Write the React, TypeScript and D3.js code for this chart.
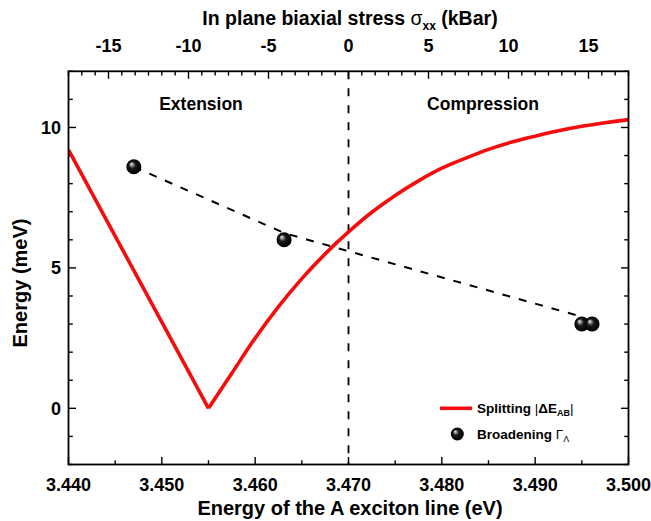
import * as d3 from 'd3';

const W = 651;
const H = 521;
const frame = { left: 68.5, right: 628.5, top: 71.3, bottom: 464.5 };
const font = '"Liberation Sans", Arial, sans-serif';
const red = '#f50d0d';

// axis ticks
const energyTicks = [3.44, 3.45, 3.46, 3.47, 3.48, 3.49, 3.5];
const stressTicks = [-15, -10, -5, 0, 5, 10, 15];
const meVTicks = [0, 5, 10];

// splitting |dE_AB| vs A exciton energy
const splitE = [3.44, 3.445, 3.45, 3.455, 3.4575, 3.46, 3.4625, 3.465, 3.4675, 3.47, 3.4725, 3.475,
  3.4775, 3.48, 3.4825, 3.485, 3.4875, 3.49, 3.4925, 3.495, 3.4975, 3.5];
const splitV = [9.2, 6.13, 3.07, 0, 1.25, 2.5, 3.62, 4.62, 5.5, 6.28, 6.98, 7.58,
  8.1, 8.55, 8.9, 9.22, 9.48, 9.69, 9.88, 10.04, 10.17, 10.28];

// broadening Gamma_A points
const broadE = [3.447, 3.4631, 3.495, 3.4961];
const broadV = [8.6, 6.0, 3.0, 3.0];

// dashed guide to the eye
const guideE = [3.447, 3.4632, 3.4948];
const guideV = [8.6, 6.23, 3.28];

const x = d3.scaleLinear().domain([3.44, 3.5]).range([frame.left, frame.right]);
const y = d3.scaleLinear().domain([-2, 12]).range([frame.bottom, frame.top]);
const stress = d3.scaleLinear().domain([-17.5, 17.5]).range([frame.left, frame.right]);

const Ball = ({ cx, cy, r }) => (
  <circle cx={cx} cy={cy} r={r} fill="url(#ball)" />
);

export default function App() {
  const pts = splitE.map((e, i) => [e, splitV[i]] as [number, number]);
  const vertex = splitV.indexOf(0);
  const leftLine = d3.line().x((d) => x(d[0])).y((d) => y(d[1]))(pts.slice(0, vertex + 1));
  const rightLine = d3
    .line()
    .curve(d3.curveMonotoneX)
    .x((d) => x(d[0]))
    .y((d) => y(d[1]))(pts.slice(vertex));
  const guide = d3
    .line()
    .x((d) => x(d[0]))
    .y((d) => y(d[1]))(guideE.map((e, i) => [e, guideV[i]]));

  const xMinor = x.ticks(12);
  const yMinor = y.ticks(14);
  const sMinor = d3.range(0, 43).map((i) => -17.5 + (i * 5) / 6).filter((v) => v <= 17.51);

  const major = 7.5;
  const minor = 4.3;

  return (
    <svg
      width={W}
      height={H}
      style={{ position: 'absolute', left: 0, top: 0, background: '#fff' }}
      fontFamily={font}
      fontWeight="bold"
    >
      <defs>
        <radialGradient id="ball" cx="50%" cy="50%" r="50%" fx="32%" fy="30%">
          <stop offset="0%" stopColor="#ffffff" />
          <stop offset="18%" stopColor="#9a9a9a" />
          <stop offset="45%" stopColor="#1a1a1a" />
          <stop offset="100%" stopColor="#000" />
        </radialGradient>
        <clipPath id="plot">
          <rect x={frame.left} y={frame.top} width={frame.right - frame.left} height={frame.bottom - frame.top} />
        </clipPath>
      </defs>

      {/* ticks */}
      <g stroke="#000" strokeWidth={1.4}>
        {xMinor.map((t) => {
          const m = energyTicks.some((v) => Math.abs(v - t) < 1e-6);
          const l = m ? major : minor;
          return <line key={'b' + t} x1={x(t)} x2={x(t)} y1={frame.bottom} y2={frame.bottom - l} />;
        })}
        {sMinor.map((t) => {
          const m = stressTicks.some((v) => Math.abs(v - t) < 1e-6);
          const l = m ? major : minor;
          return <line key={'t' + t} x1={stress(t)} x2={stress(t)} y1={frame.top} y2={frame.top + l} />;
        })}
        {yMinor.map((t) => {
          const l = meVTicks.includes(t) ? major : minor;
          return (
            <g key={'y' + t}>
              <line x1={frame.left} x2={frame.left + l} y1={y(t)} y2={y(t)} />
              <line x1={frame.right} x2={frame.right - l} y1={y(t)} y2={y(t)} />
            </g>
          );
        })}
      </g>

      {/* vertical dashed line at 3.470 */}
      <line
        x1={x(3.47)}
        x2={x(3.47)}
        y1={frame.top}
        y2={frame.bottom}
        stroke="#000"
        strokeWidth={1.8}
        strokeDasharray="8 9"
      />

      <g clipPath="url(#plot)">
        <path d={guide} fill="none" stroke="#000" strokeWidth={2} strokeDasharray="8 9" />
        <path d={leftLine} fill="none" stroke={red} strokeWidth={3.6} strokeLinejoin="round" />
        <path d={rightLine} fill="none" stroke={red} strokeWidth={3.6} strokeLinejoin="round" />
        {broadE.map((e, i) => (
          <Ball key={i} cx={x(e)} cy={y(broadV[i])} r={7.5} />
        ))}
      </g>

      <rect
        x={frame.left}
        y={frame.top}
        width={frame.right - frame.left}
        height={frame.bottom - frame.top}
        fill="none"
        stroke="#000"
        strokeWidth={1.8}
      />

      {/* tick labels */}
      <g fontSize={18} fill="#000">
        {energyTicks.map((t) => (
          <text key={t} x={x(t)} y={491} textAnchor="middle">
            {d3.format('.3f')(t)}
          </text>
        ))}
        {stressTicks.map((t) => (
          <text key={t} x={stress(t)} y={52} textAnchor="middle">
            {t}
          </text>
        ))}
        {meVTicks.map((t) => (
          <text key={t} x={61} y={y(t) + 6.5} textAnchor="end">
            {t}
          </text>
        ))}
      </g>

      {/* axis titles */}
      <text x={350} y={515} textAnchor="middle" fontSize={20}>
        Energy of the A exciton line (eV)
      </text>
      <text transform="translate(27,283) rotate(-90)" textAnchor="middle" fontSize={20}>
        Energy (meV)
      </text>
      <text x={350} y={25} textAnchor="middle" fontSize={19.5}>
        In plane biaxial stress <tspan fontWeight="normal">σ</tspan>
        <tspan fontSize={12} dy={5}>xx</tspan>
        <tspan dy={-5}> (kBar)</tspan>
      </text>

      {/* region labels */}
      <text x={201} y={110} textAnchor="middle" fontSize={17.5}>
        Extension
      </text>
      <text x={483} y={110} textAnchor="middle" fontSize={17.5}>
        Compression
      </text>

      {/* legend */}
      <line x1={440} x2={472} y1={408.3} y2={408.3} stroke={red} strokeWidth={3.6} />
      <text x={477} y={413.3} fontSize={13.5}>
        Splitting <tspan fontWeight="normal">|</tspan>ΔE
        <tspan fontSize={9} dy={3}>AB</tspan>
        <tspan fontWeight="normal" dy={-3}>|</tspan>
      </text>
      <Ball cx={457.3} cy={434} r={6.5} />
      <text x={477} y={439} fontSize={13.5}>
        Broadening <tspan fontWeight="normal">Γ</tspan>
        <tspan fontWeight="normal" fontSize={9} dy={3}>Λ</tspan>
      </text>
    </svg>
  );
}
